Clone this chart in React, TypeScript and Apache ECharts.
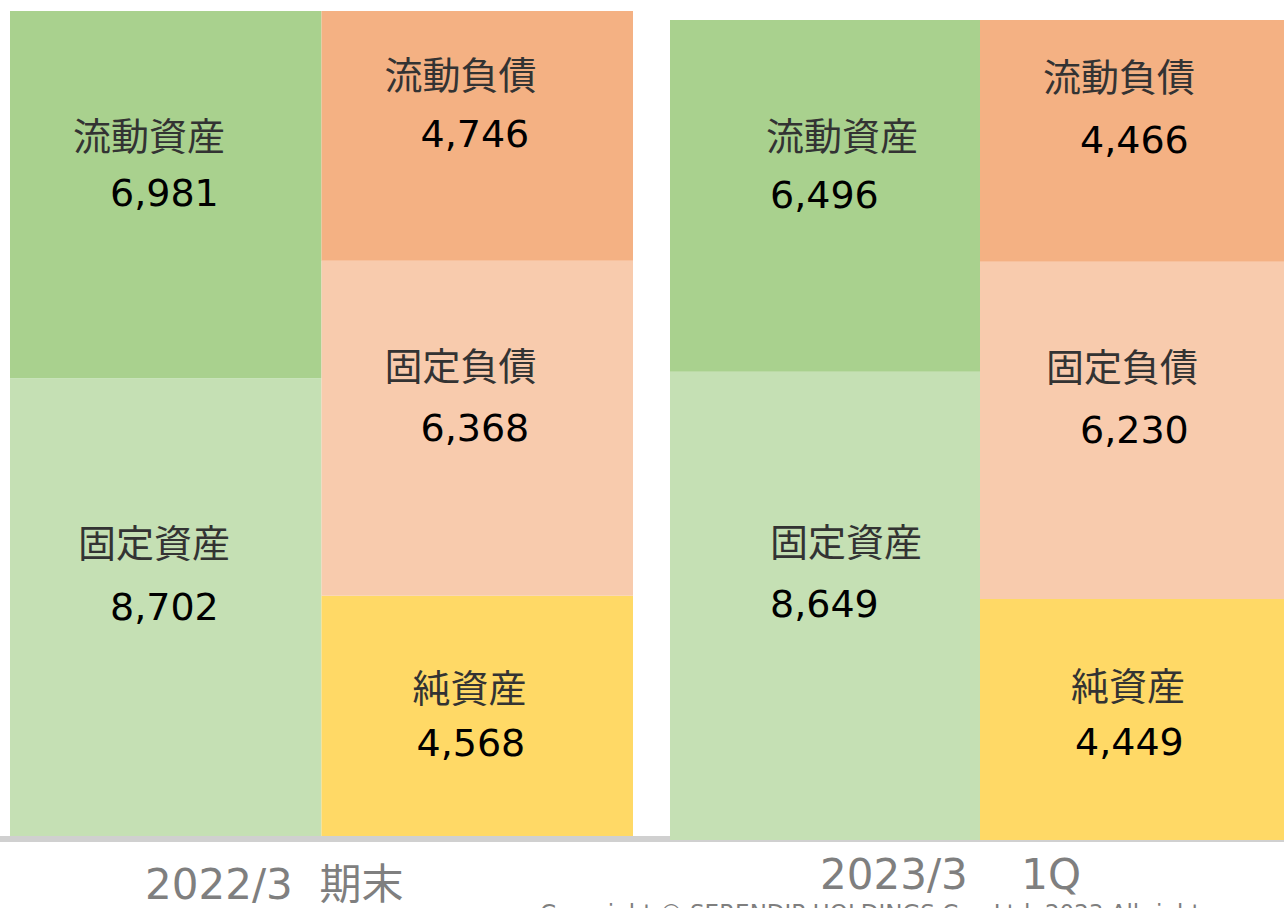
import React, { useEffect, useRef } from "react";
import * as echarts from "echarts";

// ---- data ----
const periods = ["2022/3  期末", "2023/3    1Q"];
const sides = ["資産", "負債・純資産"];
const seriesNames = ["固定資産", "流動資産", "純資産", "固定負債", "流動負債"];
const fixedAssets = [8702, 8649];
const currentAssets = [6981, 6496];
const netAssets = [4568, 4449];
const fixedLiabilities = [6368, 6230];
const currentLiabilities = [4746, 4466];
const copyright = "Copyright © SERENDIP HOLDINGS Co., Ltd. 2023 All rights reserved.";

// ---- styles ----
const colors: Record<string, string> = {
  固定資産: "#C5E0B4",
  流動資産: "#A9D18E",
  純資産: "#FFD966",
  固定負債: "#F8CBAD",
  流動負債: "#F4B183",
};
const grids = [
  { left: 10, top: 11, width: 623, height: 825 },
  { left: 670, top: 20, width: 620, height: 820 },
];
// label layout relative to each block's top-left: x, name centre y, value indent, value centre y
const labelLayout: Record<string, number[][]> = {
  流動資産: [[63, 125, 37, 182], [96, 116, 4, 175]],
  固定資産: [[68, 165, 32, 229], [100, 171, 0, 232]],
  流動負債: [[63, 64, 36, 123], [63, 57, 37, 120]],
  固定負債: [[63, 106, 36, 167], [66, 106, 34, 168]],
  純資産: [[91, 93, 4, 147], [91, 87, 4, 143]],
};
const bottomLabelPos = [
  [145, 884],
  [820, 874],
];

const fmt = (v: number) => String(v).replace(/\B(?=(\d{3})+(?!\d))/g, ",");

function seriesValues(name: string, p: number): (number | string)[] {
  switch (name) {
    case "固定資産":
      return [fixedAssets[p], "-"];
    case "流動資産":
      return [currentAssets[p], "-"];
    case "純資産":
      return ["-", netAssets[p]];
    case "固定負債":
      return ["-", fixedLiabilities[p]];
    default:
      return ["-", currentLiabilities[p]];
  }
}

export default function App() {
  const ref = useRef<HTMLDivElement>(null);
  useEffect(() => {
    if (!ref.current) return;
    const chart = echarts.init(ref.current, undefined, { renderer: "svg" });
    const series: any[] = [];
    periods.forEach((_, p) => {
      seriesNames.forEach((name) => {
        const vals = seriesValues(name, p);
        const [lx, ncy, pad, vcy] = labelLayout[name][p];
        const gap = vcy - ncy;
        const lift = 3;
        series.push({
          type: "bar",
          name,
          xAxisIndex: p,
          yAxisIndex: p,
          stack: "bs" + p,
          barCategoryGap: "0%",
          itemStyle: { color: colors[name] },
          silent: true,
          data: vals.map((v) =>
            v === "-"
              ? "-"
              : {
                  value: v,
                  label: {
                    show: true,
                    position: [lx, ncy - lift - gap / 2],
                    align: "left",
                    verticalAlign: "top",
                    formatter: (prm: any) => `{n|${prm.seriesName}}\n{v|${fmt(prm.value)}}`,
                    rich: {
                      n: {
                        fontSize: 38,
                        fontFamily: "Noto Sans CJK JP",
                        color: "#333333",
                        lineHeight: gap,
                      },
                      v: {
                        fontSize: 38,
                        fontFamily: "DejaVu Sans",
                        color: "#000000",
                        lineHeight: gap + 2 * lift,
                        padding: [0, 0, 0, pad],
                      },
                    },
                  },
                }
          ),
        });
      });
    });
    const totals = periods.map((_, p) =>
      Math.max(
        fixedAssets[p] + currentAssets[p],
        netAssets[p] + fixedLiabilities[p] + currentLiabilities[p]
      )
    );
    chart.setOption({
      animation: false,
      grid: grids.map((g) => ({ ...g, containLabel: false })),
      xAxis: periods.map((_, p) => ({
        type: "category",
        gridIndex: p,
        data: sides,
        show: false,
      })),
      yAxis: periods.map((_, p) => ({
        type: "value",
        gridIndex: p,
        min: 0,
        max: totals[p],
        show: false,
      })),
      series,
      graphic: [
        {
          type: "rect",
          z: 0,
          shape: { x: 0, y: 836, width: 1300, height: 6 },
          style: { fill: "#D0D0D0" },
          silent: true,
        },
        ...periods.map((t, p) => ({
          type: "text",
          x: bottomLabelPos[p][0],
          y: bottomLabelPos[p][1],
          style: {
            text: t,
            fontSize: 42,
            fontFamily: "DejaVu Sans, Noto Sans CJK JP",
            fill: "#7F7F7F",
            align: "left",
            verticalAlign: "middle",
          },
        })),
        {
          type: "text",
          x: 540,
          y: 901,
          style: {
            text: copyright,
            fontSize: 23,
            fontFamily: "DejaVu Sans",
            fill: "#7F7F7F",
            align: "left",
            verticalAlign: "top",
          },
        },
      ],
    });
    return () => chart.dispose();
  }, []);
  return (
    <div
      style={{
        position: "absolute",
        left: 0,
        top: 0,
        width: 1284,
        height: 908,
        overflow: "hidden",
      }}
    >
      <div ref={ref} style={{ width: 1300, height: 908 }} />
    </div>
  );
}
